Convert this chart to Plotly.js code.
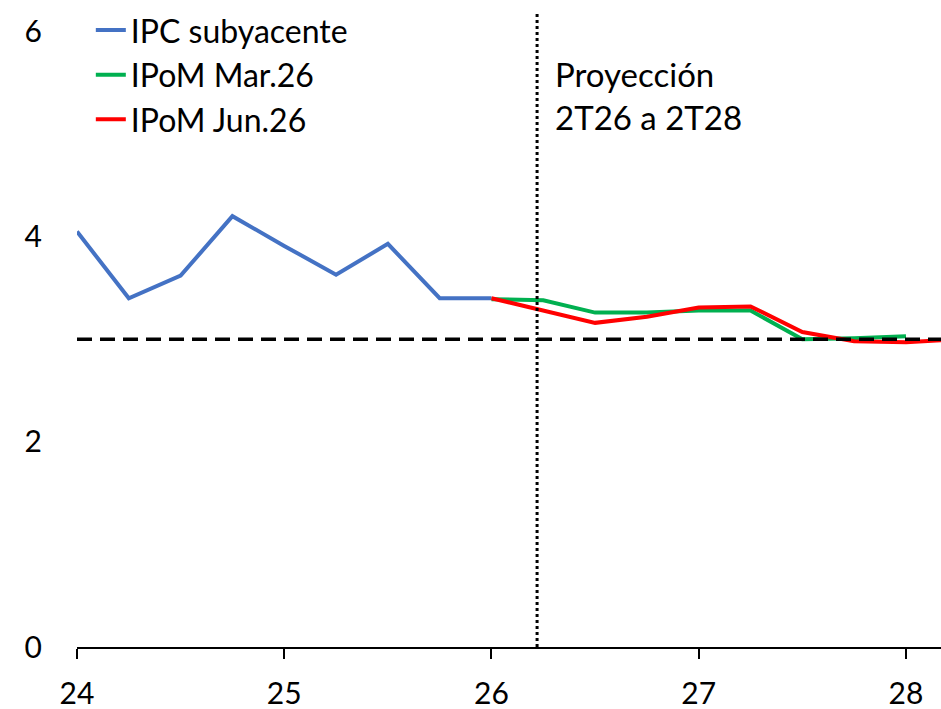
<!DOCTYPE html>
<html>
<head>
<meta charset="utf-8">
<script src="https://cdn.plot.ly/plotly-3.0.1.min.js"></script>
<style>
  html, body { margin: 0; padding: 0; background: #fff; }
  #chart { width: 941px; height: 709px; }
</style>
</head>
<body>
<div id="chart"></div>
<script>
// quarters as decimal years (24 = 2024 Q1 ...)
const xHist = [24, 24.25, 24.5, 24.75, 25, 25.25, 25.5, 25.75, 26];
const ipcSubyacente = [4.05, 3.40, 3.62, 4.20, 3.91, 3.63, 3.93, 3.40, 3.40];

const xMar = [26, 26.25, 26.5, 26.75, 27, 27.25, 27.5, 27.75, 28];
const ipomMar26 = [3.39, 3.38, 3.26, 3.26, 3.28, 3.28, 3.00, 3.01, 3.03];

const xJun = [26, 26.25, 26.5, 26.75, 27, 27.25, 27.5, 27.75, 28, 28.25];
const ipomJun26 = [3.40, 3.28, 3.16, 3.22, 3.31, 3.32, 3.07, 2.98, 2.97, 3.00];

const meta = 3;
const projStart = 26.22;
const xTicks = [24, 25, 26, 27, 28];
const yTicks = [0, 2, 4, 6];

const FONT = 'Lato, "Open Sans", sans-serif';

function lineTrace(x, y, name, color) {
    return {
        type: 'scatter',
        mode: 'lines',
        x: x,
        y: y,
        name: name,
        line: { color: color, width: 4 },
        hoverinfo: 'skip',
    };
}

const traces = [
    lineTrace(xHist, ipcSubyacente, 'IPC subyacente', '#4472C4'),
    lineTrace(xMar, ipomMar26, 'IPoM Mar.26', '#00B050'),
    lineTrace(xJun, ipomJun26, 'IPoM Jun.26', '#FF0000'),
];

const layout = {
    width: 941,
    height: 709,
    margin: { l: 77, r: 0, t: 11, b: 62, autoexpand: false },
    paper_bgcolor: '#fff',
    plot_bgcolor: '#fff',
    font: { family: FONT, size: 28, color: '#000' },
    showlegend: true,
    legend: {
        x: 0.016,
        y: 1.013,
        xanchor: 'left',
        yanchor: 'top',
        bgcolor: 'rgba(0,0,0,0)',
        font: { family: FONT, size: 32, color: '#000' },
        tracegroupgap: 0,
    },
    xaxis: {
        range: [24, 28.169],
        tickvals: xTicks,
        ticktext: xTicks.map(String),
        ticks: 'outside',
        ticklen: 10,
        tickwidth: 2,
        tickcolor: '#000',
        showline: true,
        linecolor: '#000',
        linewidth: 2,
        showgrid: false,
        zeroline: false,
        ticklabelstandoff: 9,
        tickfont: { family: FONT, size: 30, color: '#000' },
        fixedrange: true,
    },
    yaxis: {
        range: [0, 6.2],
        tickvals: yTicks,
        ticktext: yTicks.map(String),
        ticks: '',
        showline: false,
        showgrid: false,
        zeroline: false,
        ticklabelstandoff: 34,
        tickfont: { family: FONT, size: 30, color: '#000' },
        fixedrange: true,
    },
    shapes: [
        {
            type: 'line', xref: 'paper', x0: 0, x1: 1, yref: 'y', y0: meta, y1: meta,
            line: { color: '#000', width: 3.5, dash: '15px,8px' },
        },
        {
            type: 'line', xref: 'x', x0: projStart, x1: projStart, yref: 'paper', y0: 0, y1: 1,
            line: { color: '#000', width: 3, dash: 'dot' },
        },
    ],
    annotations: [
        {
            x: projStart, xref: 'x', xanchor: 'left', xshift: 16,
            y: 6, yref: 'y', yanchor: 'top', yshift: -20,
            text: 'Proyección<br>2T26 a 2T28',
            align: 'left',
            showarrow: false,
            font: { family: FONT, size: 33, color: '#000' },
        },
    ],
};

Plotly.newPlot('chart', traces, layout, { displayModeBar: false, staticPlot: true });
</script>
</body>
</html>
